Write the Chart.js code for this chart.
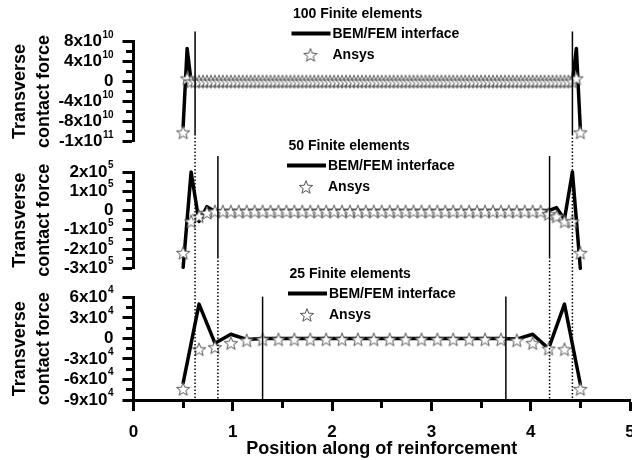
<!DOCTYPE html>
<html>
<head>
<meta charset="utf-8">
<script src="https://cdn.jsdelivr.net/npm/chart.js@4/dist/chart.umd.min.js"></script>
<style>
  body { margin: 0; background: #fff; }
  #stage { position: relative; width: 632px; height: 460px; overflow: hidden; }
  #stage canvas { position: absolute; left: 0; top: 0; }
</style>
</head>
<body>
<div id="stage">
  <canvas id="plot" width="632" height="460"></canvas>
  <canvas id="axes" width="632" height="460"></canvas>
</div>
<script>
const FONT = "'Liberation Sans', Arial, Helvetica, sans-serif";
const SERIES_LINE = 'BEM/FEM interface';
const SERIES_STARS = 'Ansys';

// 100 elements mesh (node spacing 0.04)
const x100 = [
  0.5, 0.54, 0.58, 0.62, 0.66, 0.7, 0.74, 0.78, 0.82, 0.86,
  0.9, 0.94, 0.98, 1.02, 1.06, 1.1, 1.14, 1.18, 1.22, 1.26,
  1.3, 1.34, 1.38, 1.42, 1.46, 1.5, 1.54, 1.58, 1.62, 1.66,
  1.7, 1.74, 1.78, 1.82, 1.86, 1.9, 1.94, 1.98, 2.02, 2.06,
  2.1, 2.14, 2.18, 2.22, 2.26, 2.3, 2.34, 2.38, 2.42, 2.46,
  2.5, 2.54, 2.58, 2.62, 2.66, 2.7, 2.74, 2.78, 2.82, 2.86,
  2.9, 2.94, 2.98, 3.02, 3.06, 3.1, 3.14, 3.18, 3.22, 3.26,
  3.3, 3.34, 3.38, 3.42, 3.46, 3.5, 3.54, 3.58, 3.62, 3.66,
  3.7, 3.74, 3.78, 3.82, 3.86, 3.9, 3.94, 3.98, 4.02, 4.06,
  4.1, 4.14, 4.18, 4.22, 4.26, 4.3, 4.34, 4.38, 4.42, 4.46,
  4.5
];
const bem100 = [
  -9e10, 6.6e10, 0, 0, 0, 0, 0, 0, 0, 0,
  0, 0, 0, 0, 0, 0, 0, 0, 0, 0,
  0, 0, 0, 0, 0, 0, 0, 0, 0, 0,
  0, 0, 0, 0, 0, 0, 0, 0, 0, 0,
  0, 0, 0, 0, 0, 0, 0, 0, 0, 0,
  0, 0, 0, 0, 0, 0, 0, 0, 0, 0,
  0, 0, 0, 0, 0, 0, 0, 0, 0, 0,
  0, 0, 0, 0, 0, 0, 0, 0, 0, 0,
  0, 0, 0, 0, 0, 0, 0, 0, 0, 0,
  0, 0, 0, 0, 0, 0, 0, 0, 0, 6.6e10,
  -9.5e10
];
const ansys100 = [
  -1.02e11, 6e9, 0, 0, 0, 0, 0, 0, 0, 0,
  0, 0, 0, 0, 0, 0, 0, 0, 0, 0,
  0, 0, 0, 0, 0, 0, 0, 0, 0, 0,
  0, 0, 0, 0, 0, 0, 0, 0, 0, 0,
  0, 0, 0, 0, 0, 0, 0, 0, 0, 0,
  0, 0, 0, 0, 0, 0, 0, 0, 0, 0,
  0, 0, 0, 0, 0, 0, 0, 0, 0, 0,
  0, 0, 0, 0, 0, 0, 0, 0, 0, 0,
  0, 0, 0, 0, 0, 0, 0, 0, 0, 0,
  0, 0, 0, 0, 0, 0, 0, 0, 0, 6e9,
  -1.02e11
];

// 50 elements mesh (node spacing 0.08)
const x50 = [
  0.5, 0.58, 0.66, 0.74, 0.82, 0.9, 0.98, 1.06, 1.14, 1.22,
  1.3, 1.38, 1.46, 1.54, 1.62, 1.7, 1.78, 1.86, 1.94, 2.02,
  2.1, 2.18, 2.26, 2.34, 2.42, 2.5, 2.58, 2.66, 2.74, 2.82,
  2.9, 2.98, 3.06, 3.14, 3.22, 3.3, 3.38, 3.46, 3.54, 3.62,
  3.7, 3.78, 3.86, 3.94, 4.02, 4.1, 4.18, 4.26, 4.34, 4.42,
  4.5
];
const bem50 = [
  -2.95e5, 2.0e5, -5.7e4, 2e4, -5e3, 0, 0, 0, 0, 0,
  0, 0, 0, 0, 0, 0, 0, 0, 0, 0,
  0, 0, 0, 0, 0, 0, 0, 0, 0, 0,
  0, 0, 0, 0, 0, 0, 0, 0, 0, 0,
  0, 0, 0, 0, 0, 0, 0, 1.5e4, -4.5e4, 2.0e5,
  -3.0e5
];
const ansys50 = [
  -2.2e5, -5.7e4, -3e4, -1.2e4, -5e3, -5e3, -5e3, -5e3, -5e3, -5e3,
  -5e3, -5e3, -5e3, -5e3, -5e3, -5e3, -5e3, -5e3, -5e3, -5e3,
  -5e3, -5e3, -5e3, -5e3, -5e3, -5e3, -5e3, -5e3, -5e3, -5e3,
  -5e3, -5e3, -5e3, -5e3, -5e3, -5e3, -5e3, -5e3, -5e3, -5e3,
  -5e3, -5e3, -5e3, -5e3, -5e3, -5e3, -1.9e4, -3.1e4, -5.7e4, -5.7e4,
  -2.2e5
];

// 25 elements mesh (node spacing 0.16)
const x25 = [
  0.5, 0.66, 0.82, 0.98, 1.14, 1.3, 1.46, 1.62, 1.78, 1.94,
  2.1, 2.26, 2.42, 2.58, 2.74, 2.9, 3.06, 3.22, 3.38, 3.54,
  3.7, 3.86, 4.02, 4.18, 4.34, 4.5
];
const bem25 = [
  -6.5e4, 5e4, -7e3, 6e3, -1.5e3, 0, 0, 0, 0, 0,
  0, 0, 0, 0, 0, 0, 0, 0, 0, 0,
  0, -1e3, 6e3, -1.5e4, 5e4, -6.7e4
];
const ansys25 = [
  -7.4e4, -1.6e4, -1.3e4, -7e3, -3e3, -1.5e3, -1.5e3, -1.5e3, -1.5e3, -1.5e3,
  -1.5e3, -1.5e3, -1.5e3, -1.5e3, -1.5e3, -1.5e3, -1.5e3, -1.5e3, -1.5e3, -1.5e3,
  -1.5e3, -3e3, -7e3, -1.5e4, -1.6e4, -7.4e4
];

// element boundary markers
const bounds100 = [0.62, 4.42];
const bounds50 = [0.85, 4.19];
const bounds25 = [1.3, 3.75];

// axis ticks
const xTicks = [0, 1, 2, 3, 4, 5];
const ticks100 = [-1.2e11, -8e10, -4e10, 0, 4e10, 8e10];
const tickLabels100 = ['-1x10^11', '-8x10^10', '-4x10^10', '0', '4x10^10', '8x10^10'];
const ticks50 = [-3e5, -2e5, -1e5, 0, 1e5, 2e5];
const tickLabels50 = ['-3x10^5', '-2x10^5', '-1x10^5', '0', '1x10^5', '2x10^5'];
const ticks25 = [-9e4, -6e4, -3e4, 0, 3e4, 6e4];
const tickLabels25 = ['-9x10^4', '-6x10^4', '-3x10^4', '0', '3x10^4', '6x10^4'];

const panels = [
  { axis: 'y100', ticks: ticks100, labels: tickLabels100, bounds: bounds100, markTop: 1.0e11, markBottom: -1.05e11,
    title: '100 Finite elements', legendX: 291.5, legendY: 14 },
  { axis: 'y50', ticks: ticks50, labels: tickLabels50, bounds: bounds50, markTop: 2.83e5, markBottom: -2.41e5,
    title: '50 Finite elements', legendX: 287, legendY: 146 },
  { axis: 'y25', ticks: ticks25, labels: tickLabels25, bounds: bounds25, markTop: 6.1e4, markBottom: -9e4,
    title: '25 Finite elements', legendX: 288, legendY: 274 }
];

// hollow five-pointed star used as point marker
function makeStar(size) {
  const c = document.createElement('canvas');
  c.width = c.height = size;
  const g = c.getContext('2d');
  const cx = size / 2, cy = size / 2 + 0.6, R = size / 2 - 1, r = R * 0.42;
  g.beginPath();
  for (let i = 0; i < 10; i++) {
    const a = -Math.PI / 2 + i * Math.PI / 5;
    const rad = i % 2 ? r : R;
    if (i === 0) g.moveTo(cx + rad * Math.cos(a), cy + rad * Math.sin(a));
    else g.lineTo(cx + rad * Math.cos(a), cy + rad * Math.sin(a));
  }
  g.closePath();
  g.fillStyle = '#fff';
  g.fill();
  g.strokeStyle = '#555';
  g.lineWidth = 1;
  g.stroke();
  return c;
}
const starImg = makeStar(16);

const pts = (xs, ys) => xs.map((x, i) => ({ x, y: ys[i] }));

function lineSet(xs, ys, axis) {
  return {
    label: SERIES_LINE, data: pts(xs, ys), yAxisID: axis, clip: 6,
    borderColor: '#000', borderWidth: 3.5, pointRadius: 0,
    borderJoinStyle: 'round', borderCapStyle: 'round', tension: 0, order: 2
  };
}
function starSet(xs, ys, axis) {
  return {
    label: SERIES_STARS, data: pts(xs, ys), yAxisID: axis, clip: 8,
    showLine: false, pointStyle: starImg, pointRadius: 6, order: 1
  };
}

// The figure is drawn on two stacked canvases that share one layout:
// 'plot' holds the curves, labels and legends, 'axes' the axis lines and ticks.
const axisGrid = { drawOnChartArea: false, tickLength: 11, tickWidth: 3, tickColor: '#000' };
const axisBorder = { color: '#000', width: 3 };
const titleFont = { family: FONT, size: 18, weight: 'bold' };

function buildScales(layer) {
  const plot = layer === 'plot';
  const yAxis = (tickValues, weight) => ({
    type: 'linear', position: 'left', stack: 'panels', stackWeight: weight,
    min: tickValues[0], max: tickValues[tickValues.length - 1],
    afterBuildTicks: s => { s.ticks = tickValues.map(v => ({ value: v })); },
    afterFit: s => { s.width = 133.5; s.paddingTop = 0; s.paddingBottom = 0; },
    ticks: { display: false },
    grid: plot ? { display: false } : axisGrid,
    border: plot ? { display: false } : axisBorder,
    title: plot
      ? { display: true, text: ['Transverse', 'contact force'], color: '#000',
          font: { ...titleFont, lineHeight: 1.33 }, padding: { top: 8, bottom: 0 } }
      : { display: false }
  });
  const spacer = weight => ({ type: 'linear', position: 'left', stack: 'panels', stackWeight: weight, display: false });
  return {
    x: {
      type: 'linear', position: 'bottom', min: 0, max: 5,
      afterFit: s => { s.height = 60; s.paddingLeft = 0; s.paddingRight = 0; },
      ticks: { display: plot, stepSize: 1, color: '#000', font: { family: FONT, size: 17, weight: 'bold' }, padding: 11 },
      grid: plot ? { display: false, tickLength: 11 } : axisGrid,
      border: plot ? { display: false } : axisBorder,
      title: plot
        ? { display: true, text: 'Position along of reinforcement', color: '#000', font: titleFont, padding: { top: 0, bottom: 0 } }
        : { display: false }
    },
    y25: yAxis(ticks25, 102.7),
    gapLow: spacer(29),
    y50: yAxis(ticks50, 96.3),
    gapHigh: spacer(30.5),
    y100: yAxis(ticks100, 100)
  };
}

const baseOptions = {
  responsive: false,
  animation: false,
  events: [],
  layout: { autoPadding: false, padding: { top: 41.5, left: 0, right: 2, bottom: 0 } },
  plugins: { legend: { display: false }, tooltip: { enabled: false } }
};

function strokeLine(ctx, x0, y0, x1, y1) {
  ctx.beginPath();
  ctx.moveTo(x0, y0);
  ctx.lineTo(x1, y1);
  ctx.stroke();
}

// short tick marks half way between the labelled ones
function minorTicks(ctx, scale, values, horizontal) {
  ctx.fillStyle = '#000';
  for (let i = 0; i < values.length - 1; i++) {
    const p = Math.round(scale.getPixelForValue((values[i] + values[i + 1]) / 2) - 1.5);
    if (horizontal) ctx.fillRect(p, Math.round(scale.top + 1.5), 3, 6);
    else ctx.fillRect(Math.round(scale.right - 7.5), p, 6, 3);
  }
}

function tickLabels(ctx, scale, values, labels) {
  const right = scale.right - 20;
  ctx.fillStyle = '#000';
  ctx.textAlign = 'right';
  values.forEach((v, i) => {
    const y = scale.getPixelForValue(v);
    const [base, exp] = labels[i].split('^');
    let x = right;
    if (exp) {
      ctx.font = `bold 10px ${FONT}`;
      ctx.textBaseline = 'alphabetic';
      ctx.fillText(exp, x, y - 4);
      x -= ctx.measureText(exp).width + 0.5;
    }
    ctx.font = `bold 17px ${FONT}`;
    ctx.textBaseline = 'middle';
    ctx.fillText(base, x, y);
  });
}

function legendBlock(ctx, p) {
  const L = p.legendX, T = p.legendY;
  ctx.fillStyle = '#000';
  ctx.font = `bold 14px ${FONT}`;
  ctx.textAlign = 'left';
  ctx.textBaseline = 'middle';
  ctx.fillText(p.title, L + 1.5, T);
  ctx.fillRect(L, T + 17.5, 39, 4);
  ctx.fillText(SERIES_LINE, L + 41, T + 20.5);
  ctx.drawImage(starImg, L + 19 - starImg.width / 2, T + 41 - starImg.height / 2);
  ctx.fillText(SERIES_STARS, L + 41, T + 41.5);
}

const plotDecor = {
  id: 'plotDecor',
  afterDatasetsDraw(chart) {
    const ctx = chart.ctx, xs = chart.scales.x, bottom = chart.chartArea.bottom;
    ctx.save();
    ctx.strokeStyle = '#000';
    ctx.lineWidth = 1.5;
    panels.forEach(p => {
      const ys = chart.scales[p.axis];
      p.bounds.forEach(v => {
        const px = xs.getPixelForValue(v);
        const y0 = ys.getPixelForValue(p.markTop), y1 = ys.getPixelForValue(p.markBottom);
        ctx.setLineDash([]);
        strokeLine(ctx, px, y0, px, y1);
        if (y1 < bottom - 2) {
          ctx.setLineDash([1.5, 2]);
          strokeLine(ctx, px, y1, px, bottom);
        }
      });
    });
    ctx.restore();
  },
  afterDraw(chart) {
    const ctx = chart.ctx;
    ctx.save();
    panels.forEach(p => {
      tickLabels(ctx, chart.scales[p.axis], p.ticks, p.labels);
      legendBlock(ctx, p);
    });
    ctx.restore();
  }
};

const axesDecor = {
  id: 'axesDecor',
  afterDraw(chart) {
    const ctx = chart.ctx;
    ctx.save();
    minorTicks(ctx, chart.scales.x, xTicks, true);
    panels.forEach(p => minorTicks(ctx, chart.scales[p.axis], p.ticks, false));
    ctx.restore();
  }
};

new Chart(document.getElementById('plot'), {
  type: 'line',
  data: {
    datasets: [
      lineSet(x100, bem100, 'y100'), starSet(x100, ansys100, 'y100'),
      lineSet(x50, bem50, 'y50'), starSet(x50, ansys50, 'y50'),
      lineSet(x25, bem25, 'y25'), starSet(x25, ansys25, 'y25')
    ]
  },
  options: { ...baseOptions, scales: buildScales('plot') },
  plugins: [plotDecor]
});

new Chart(document.getElementById('axes'), {
  type: 'line',
  data: { datasets: [] },
  options: { ...baseOptions, scales: buildScales('axes') },
  plugins: [axesDecor]
});
</script>
</body>
</html>
